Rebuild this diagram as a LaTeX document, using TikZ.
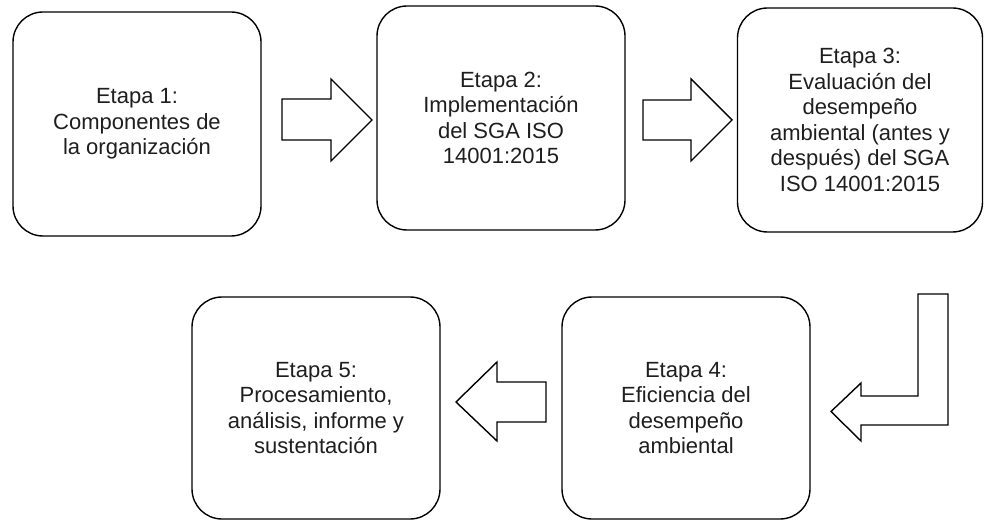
\documentclass[tikz,border=0pt]{standalone}
\usepackage{fontspec}
\setmainfont{Liberation Sans}
\usepackage{xcolor}
\usepackage{tikz}

\definecolor{texto}{HTML}{1E1E1E}

\begin{document}
\begin{tikzpicture}[
        x=1pt, y=-1pt,
        etapa/.style={rectangle, draw, line width=1.4pt, rounded corners=30pt,
          minimum width=248pt, minimum height=224pt, inner sep=0pt,
          align=center, text=texto, font=\fontsize{22}{25.5}\selectfont},
        flecha/.style={draw, line width=1.4pt, line join=miter}
      ]

      \useasboundingbox (0,0) rectangle (985,521);

      \node[etapa] (etapa1) at (137,124) {Etapa 1:\\Componentes de\\la organización};
      \node[etapa] (etapa2) at (501,118) {Etapa 2:\\Implementación\\del SGA ISO\\14001:2015};
      \node[etapa, minimum width=245pt] (etapa3) at (860,120)
        {Etapa 3:\\Evaluación del\\desempeño\\ambiental (antes y\\después) del SGA\\ISO 14001:2015};
      \node[etapa, minimum height=222pt] (etapa4) at (686,408)
        {Etapa 4:\\Eficiencia del\\desempeño\\ambiental};
      \node[etapa, minimum height=222pt] (etapa5) at (316,408)
        {Etapa 5:\\Procesamiento,\\análisis, informe y\\sustentación};

      % flechas de bloque
      \draw[flecha] (282,99) -- (331,99) -- (331,79) -- (372,120)
        -- (331,161) -- (331,140) -- (282,140) -- cycle;
      \draw[flecha] (643,100) -- (691,100) -- (691,79) -- (732,120)
        -- (691,161) -- (691,140) -- (643,140) -- cycle;
      \draw[flecha] (546,382) -- (497,382) -- (497,362) -- (456,402)
        -- (497,441) -- (497,422) -- (546,422) -- cycle;

      % flecha doblada entre etapa 3 y etapa 4
      \draw[flecha]
        (918,294) -- (948,294) -- (948,425) -- (861,425) -- (861,441)
        -- (831,411.5) -- (861,383) -- (861,396) -- (918,396) -- cycle;

    \end{tikzpicture}
\end{document}
